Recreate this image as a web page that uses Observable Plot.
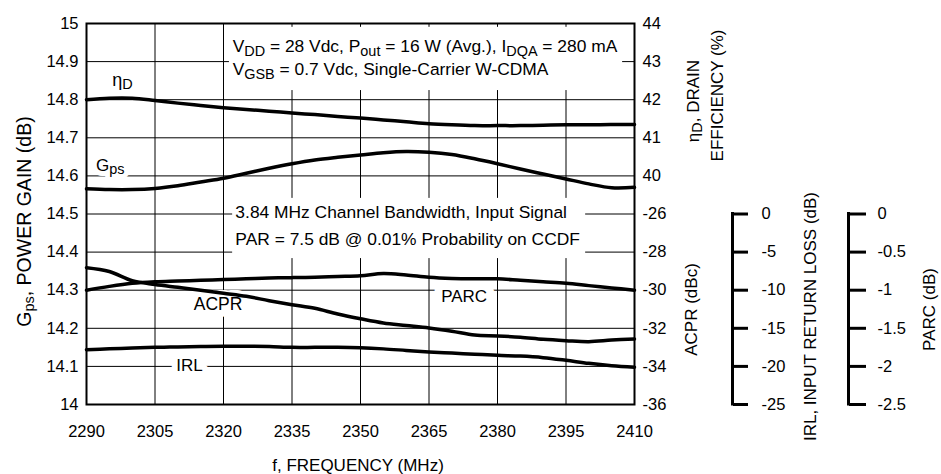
<!DOCTYPE html>
<html>
<head>
<meta charset="utf-8">
<script src="https://cdn.jsdelivr.net/npm/d3@7"></script>
<script src="https://cdn.jsdelivr.net/npm/@observablehq/plot@0.6"></script>
<style>
  html, body { margin: 0; padding: 0; background: #fff; }
  #chart svg { display: block; }
</style>
</head>
<body>
<div id="chart"></div>
<script>
// ---------------- data ----------------
const freq = [2290, 2295, 2300, 2305, 2310, 2315, 2320, 2325, 2330, 2335, 2340, 2345, 2350,
              2355, 2360, 2365, 2370, 2375, 2380, 2385, 2390, 2395, 2400, 2405, 2410];
const gainDb = [14.566, 14.564, 14.564, 14.567, 14.574, 14.584, 14.594, 14.607, 14.620, 14.632,
                14.642, 14.649, 14.655, 14.661, 14.664, 14.662, 14.656, 14.645, 14.632, 14.618,
                14.605, 14.592, 14.579, 14.569, 14.570];
const drainEff = [42.00, 42.04, 42.04, 41.98, 41.91, 41.85, 41.79, 41.74, 41.70, 41.65,
                  41.61, 41.56, 41.52, 41.47, 41.42, 41.37, 41.34, 41.32, 41.32, 41.32,
                  41.33, 41.34, 41.34, 41.35, 41.35];
const acprDbc = [-28.82, -29.02, -29.50, -29.70, -29.85, -30.00, -30.16, -30.32, -30.55, -30.76,
                 -30.95, -31.25, -31.50, -31.72, -31.85, -31.98, -32.15, -32.35, -32.40, -32.47,
                 -32.58, -32.65, -32.70, -32.62, -32.56];
const irlDb = [-17.8, -17.7, -17.6, -17.5, -17.45, -17.4, -17.36, -17.36, -17.4, -17.5,
               -17.5, -17.5, -17.56, -17.7, -17.9, -18.1, -18.25, -18.4, -18.55, -18.65,
               -18.85, -19.2, -19.6, -19.9, -20.1];
const parcDb = [-1.00, -0.95, -0.91, -0.89, -0.88, -0.87, -0.86, -0.85, -0.84, -0.835,
                -0.83, -0.82, -0.81, -0.78, -0.80, -0.83, -0.845, -0.85, -0.85, -0.87,
                -0.89, -0.91, -0.94, -0.97, -1.00];

// tick labels
const freqTicks = [2290, 2305, 2320, 2335, 2350, 2365, 2380, 2395, 2410];
const gainTicks = [14, 14.1, 14.2, 14.3, 14.4, 14.5, 14.6, 14.7, 14.8, 14.9, 15];
const effTicks = [40, 41, 42, 43, 44];
const acprTicks = [-26, -28, -30, -32, -34, -36];
const irlTicks = [0, -5, -10, -15, -20, -25];
const parcTicks = [0, -0.5, -1, -1.5, -2, -2.5];

// secondary axes expressed on the gain (left) axis
const effToG  = v => 14.6 + (v - 40) * 0.1;
const acprToG = v => 14.5 + (v + 26) * 0.05;
const irlToG  = v => 14.5 + v * 0.02;
const parcToG = v => 14.5 + v * 0.2;

function secondary(values, toG) {
  const m = new Map(values.map(v => [toG(v).toFixed(3), String(v)]));
  return {ticks: values.map(toG), fmt: d => m.get((+d).toFixed(3))};
}
const rightAx = secondary([...effTicks, ...acprTicks], v => (v > 0 ? effToG(v) : acprToG(v)));
const irlAx = secondary(irlTicks, irlToG);
const parcAx = secondary(parcTicks, parcToG);

const series = [
  {name: "Gps", values: gainDb, toG: v => v},
  {name: "Eff", values: drainEff, toG: effToG},
  {name: "ACPR", values: acprDbc, toG: acprToG},
  {name: "IRL", values: irlDb, toG: irlToG},
  {name: "PARC", values: parcDb, toG: parcToG}
];
const rows = series.flatMap(s => freq.map((f, i) => ({f, series: s.name, g: s.toG(s.values[i])})));

const font = "'Liberation Sans', Arial, Helvetica, sans-serif";

// curve labels: [text, x (MHz), y (gain units), font size, halo width]
const curveLabels = [
  ["η_{D}", 2297.9, 14.852, 18, 6],
  ["G_{ps}", 2295.2, 14.627, 17, 10],
  ["ACPR", 2318.8, 14.2625, 17.5, 14],
  ["PARC", 2372.7, 14.2827, 17, 16],
  ["IRL", 2312.55, 14.1016, 17, 12]
];
const haloMarks = curveLabels.map(([t, x, y, fs, w]) =>
  Plot.text([t], {x, y, fontSize: fs, fill: "white", stroke: "white", strokeWidth: w, strokeLinejoin: "round"}));
const labelMarks = curveLabels.map(([t, x, y, fs]) =>
  Plot.text([t], {x, y, fontSize: fs, fill: "black"}));

const title = (t, frameAnchor, dx, dy, rotate, fontSize = 17) =>
  Plot.text([t], {frameAnchor, dx, dy, rotate, fontSize, textAnchor: "middle", lineAnchor: "middle"});

const noteFs = 17.4;
const plot = Plot.plot({
  width: 941, height: 474,
  marginTop: 23, marginBottom: 70, marginLeft: 86, marginRight: 307,
  style: {fontFamily: font, fontSize: "16.5px", color: "black", background: "white", overflow: "visible"},
  x: {domain: [2290, 2410]},
  y: {domain: [14, 15]},
  marks: [
    Plot.gridX(freqTicks, {stroke: "black", strokeOpacity: 1, strokeWidth: 1}),
    Plot.gridY(gainTicks, {stroke: "black", strokeOpacity: 1, strokeWidth: 1}),
    // white backgrounds of the two condition notes
    Plot.rect([0], {x1: 2321.3, x2: 2407.4, y1: 14.824, y2: 14.99, fill: "white"}),
    Plot.rect([0], {x1: 2322, x2: 2399.3, y1: 14.383, y2: 14.541, fill: "white"}),
    ...haloMarks,
    // curves
    Plot.line(rows, {x: "f", y: "g", z: "series", stroke: "black", strokeWidth: 3.5, curve: "catmull-rom"}),
    Plot.frame({stroke: "black", strokeWidth: 2}),
    ...labelMarks,
    // condition notes
    Plot.text(["V_{DD} = 28 Vdc, P_{out} = 16 W (Avg.), I_{DQA} = 280 mA"], {x: 2322, y: 14.939, textAnchor: "start", fontSize: noteFs}),
    Plot.text(["V_{GSB} = 0.7 Vdc, Single-Carrier W-CDMA"], {x: 2322, y: 14.879, textAnchor: "start", fontSize: noteFs}),
    Plot.text(["3.84 MHz Channel Bandwidth, Input Signal"], {x: 2322.6, y: 14.503, textAnchor: "start", fontSize: noteFs}),
    Plot.text(["PAR = 7.5 dB @ 0.01% Probability on CCDF"], {x: 2322.6, y: 14.433, textAnchor: "start", fontSize: noteFs}),
    // axes
    Plot.axisX(freqTicks, {tickSize: 0, tickPadding: 21, label: null, tickFormat: d => String(d)}),
    Plot.axisY(gainTicks, {anchor: "left", tickSize: 0, tickPadding: 8, label: null, tickFormat: d => String(+(+d).toFixed(1))}),
    Plot.axisY(rightAx.ticks, {anchor: "right", tickSize: 0, tickPadding: 8, label: null, tickFormat: rightAx.fmt}),
    // bracket axes for IRL and PARC
    Plot.ruleX([d3.max(freq)], {y1: irlToG(d3.min(irlTicks)), y2: irlToG(d3.max(irlTicks)), dx: 98, strokeWidth: 3, strokeLinecap: "square"}),
    Plot.axisY(irlAx.ticks, {anchor: "right", dx: 98, tickSize: 15, tickPadding: 14, strokeWidth: 3, label: null, tickFormat: irlAx.fmt}),
    Plot.ruleX([d3.max(freq)], {y1: parcToG(d3.min(parcTicks)), y2: parcToG(d3.max(parcTicks)), dx: 214, strokeWidth: 3, strokeLinecap: "square"}),
    Plot.axisY(parcAx.ticks, {anchor: "right", dx: 214, tickSize: 17, tickPadding: 12, strokeWidth: 3, label: null, tickFormat: parcAx.fmt}),
    // axis titles
    title("f, FREQUENCY (MHz)", "bottom", -2.5, 60.6, 0),
    title("G_{ps}, POWER GAIN (dB)", "left", -62, 7.5, -90, 19.5),
    title("η_{D}, DRAIN", "right", 59, -113, -90),
    title("EFFICIENCY (%)", "right", 83, -118.5, -90),
    title("ACPR (dBc)", "right", 57, 95.5, -90),
    title("IRL, INPUT RETURN LOSS (dB)", "right", 176, 102.5, -90),
    title("PARC (dB)", "right", 295, 95.5, -90)
  ]
});

// turn "_{...}" markers into real subscript tspans
function applySubscripts(svg) {
  svg.querySelectorAll("text").forEach(t => {
    const s = t.textContent;
    if (!s.includes("_{")) return;
    const fs = parseFloat(getComputedStyle(t).fontSize) || 17;
    const shift = 0.2 * fs;
    const parts = s.split(/_\{([^}]*)\}/);
    while (t.firstChild) t.removeChild(t.firstChild);
    let down = false;
    parts.forEach((p, i) => {
      if (!p) return;
      const ts = document.createElementNS("http://www.w3.org/2000/svg", "tspan");
      ts.textContent = p;
      if (i % 2 === 1) {
        ts.setAttribute("font-size", (0.85 * fs).toFixed(2));
        if (!down) { ts.setAttribute("dy", shift.toFixed(2)); down = true; }
      } else if (down) {
        ts.setAttribute("dy", (-shift).toFixed(2)); down = false;
      }
      t.appendChild(ts);
    });
  });
}
applySubscripts(plot);
document.getElementById("chart").appendChild(plot);
</script>
</body>
</html>
